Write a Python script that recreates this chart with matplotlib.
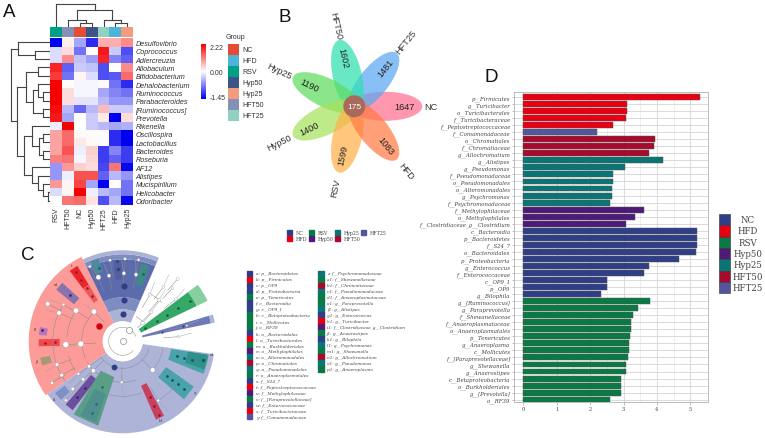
import numpy as np
import matplotlib
matplotlib.use("Agg")
import matplotlib.pyplot as plt
from matplotlib.colors import LinearSegmentedColormap, TwoSlopeNorm
from matplotlib.patches import Ellipse, Wedge, Circle, Arc, Rectangle, Polygon

W, H = 765, 439
fig = plt.figure(figsize=(W / 100, H / 100), dpi=100, facecolor="white")
SANS = "Liberation Sans"
SERIF = "DejaVu Serif"


def px_axes(left, top, right, bottom, **kw):
    return fig.add_axes([left / W, 1 - bottom / H, (right - left) / W, (bottom - top) / H], **kw)


ov = fig.add_axes([0, 0, 1, 1], zorder=0)
ov.set_xlim(0, W)
ov.set_ylim(0, H)
ov.axis("off")


def T(x, y, s, **kw):
    return ov.text(x, H - y, s, **kw)


for letter, x, y in [("A", 9, 12), ("B", 285, 17), ("C", 28, 255), ("D", 491, 78)]:
    T(x, y, letter, fontsize=13.5, family=SANS, ha="center", va="center", color="#111111")

# ---------------- Panel A data ----------------
hm_cols = ["RSV", "HFT50", "NC", "Hyp50", "HFT25", "HFD", "Hyp25"]
hm_rows = ["Desulfovibrio", "Coprococcus", "Adlercreuzia", "Allobaculum", "Bifidobacterium",
           "Dehalobacterium", "Ruminococcus", "Parabacteroides", "[Ruminococcus]", "Prevotella",
           "Rikenella", "Oscillospira", "Lactobacillus", "Bacteroides", "Roseburia",
           "AF12", "Alistipes", "Mucispirillum", "Helicobacter", "Odoribacter"]
hm_vals = np.array([
    [-1.45, 0.15, -0.50, -1.20, 0.70, 0.70, 1.00],
    [-0.20, 0.30, -0.80, 0.02, 2.00, -0.30, -1.00],
    [-0.20, 1.00, -0.35, -0.55, 1.90, -0.70, -0.90],
    [1.90, -0.90, -0.30, -0.35, -1.00, 0.00, 1.00],
    [1.70, -0.80, 0.10, -0.20, -1.00, -0.95, 1.30],
    [2.20, 0.02, -0.05, -0.05, 0.05, -0.80, -1.20],
    [2.20, 0.30, -0.05, -0.05, -0.50, -0.70, -0.80],
    [2.20, 0.30, -0.15, -0.15, -0.40, -0.60, -0.60],
    [2.10, -0.40, -0.85, -0.40, 0.60, -0.30, -0.30],
    [2.00, -0.50, 0.00, -0.30, 0.20, -1.45, 0.30],
    [-0.10, 2.20, 0.00, -0.30, -0.40, -0.50, -0.45],
    [0.80, 1.30, 0.05, 0.05, -0.02, -1.20, -1.45],
    [0.80, 1.30, 0.20, 0.05, -0.02, -1.20, -1.45],
    [0.80, 1.50, -0.10, 0.40, -1.10, -0.70, -1.10],
    [1.10, 1.20, -0.05, 0.35, -1.10, -0.90, -1.10],
    [-0.60, 0.90, 0.40, 0.30, -1.05, 1.20, -1.40],
    [-0.60, -0.10, 1.50, 1.50, -0.90, -0.40, -0.60],
    [0.90, 0.10, 1.60, -0.50, -1.45, 0.00, -0.80],
    [-0.20, 0.10, 2.20, -0.10, -0.40, -0.50, -0.80],
    [0.00, 1.20, 1.30, 0.25, -1.00, -0.40, -1.40],
])
group_names = ["NC", "HFD", "RSV", "Hyp50", "Hyp25", "HFT50", "HFT25"]
npg = ["#e64b35", "#4db4d5", "#00a087", "#3c5488", "#f39b7f", "#8491b4", "#91d1c2"]
npg_map = dict(zip(group_names, npg))

# dendrogram trees: (height, left, right); leaves are indices
col_tree = (70, 0, (52, (22, 1, (13, 2, 3)), (22, 4, (13, 5, 6))))
row_tree = (117, (94, 0, (44, 1, 2)),
            (97, (71, (34, 3, 4),
                  (49, (34, 5, (19, 6, 7)), (21, 8, 9))),
             (77, (52, 10, (31, (21, 11, 12), (19, 13, 14))),
              (52, 15, (34, 16, (21, 17, (6, 18, 19)))))))


def dendro(node, segs):
    if not isinstance(node, tuple):
        return node + 0.5, 0
    h, l, r = node
    pl, hl = dendro(l, segs)
    pr, hr = dendro(r, segs)
    segs += [((pl, hl), (pl, h)), ((pr, hr), (pr, h)), ((pl, h), (pr, h))]
    return (pl + pr) / 2, h


cmap = LinearSegmentedColormap.from_list("bwr2", ["#0000ee", "#ffffff", "#f40000"])
norm = TwoSlopeNorm(vmin=-1.45, vcenter=0, vmax=2.22)

ax = px_axes(49.7, 39.3, 133.4, 205.7)
ax.pcolormesh(hm_vals, cmap=cmap, norm=norm, edgecolors="none")
ax.set_ylim(len(hm_rows), 0)
ax.set_xlim(0, len(hm_cols))
ax.yaxis.tick_right()
ax.set_yticks(np.arange(len(hm_rows)) + 0.5, hm_rows, fontsize=5.2, style="italic", family=SANS, color="#333333")
ax.set_xticks(np.arange(len(hm_cols)) + 0.5, hm_cols, fontsize=5.0, rotation=90, family=SANS, color="#333333")
ax.tick_params(length=0, pad=1.6)
for s in ax.spines.values():
    s.set_visible(False)

an = px_axes(49.7, 28.3, 133.4, 37.8)
for i, c in enumerate(hm_cols):
    an.barh(0, 1, left=i, height=1, color=npg_map[c])
an.set_xlim(0, 7)
an.set_ylim(-0.5, 0.5)
an.axis("off")

dt = px_axes(49.7, 4, 133.4, 28.3)
segs = []
dendro(col_tree, segs)
for (a, b) in segs:
    dt.plot([a[0], b[0]], [a[1], b[1]], color="#444444", lw=0.8, solid_capstyle="projecting")
dt.set_xlim(0, 7)
dt.set_ylim(0, 73)
dt.axis("off")

dl = px_axes(9, 39.3, 49.7, 205.7)
segs = []
dendro(row_tree, segs)
for (a, b) in segs:
    dl.plot([a[1], b[1]], [a[0], b[0]], color="#444444", lw=0.8, solid_capstyle="projecting")
dl.set_xlim(122, 0)
dl.set_ylim(20, 0)
dl.axis("off")

# colour key
cb = px_axes(201, 45, 206, 100)
cb_ticks = [-1.45, 0.0, 2.22]
pos = [0.04, 0.5, 0.95]
cb.imshow(np.linspace(0, 1, 256)[:, None], cmap=cmap, aspect="auto", origin="lower", extent=[0, 1, 0, 1])
cb.set_xticks([])
cb.yaxis.tick_right()
cb.set_yticks(pos, [f"{v:.2f}" for v in cb_ticks], fontsize=5, family=SANS, color="#333333")
cb.tick_params(length=0, pad=2.5)
for s in cb.spines.values():
    s.set_visible(False)

T(225.5, 37, "Group", fontsize=5, family=SANS, color="#333333", va="center")
lg = px_axes(228, 45, 238.5, 122)
for i, (g, c) in enumerate(zip(group_names, npg)):
    lg.barh(i, 1, height=1, color=c)
lg.set_xlim(0, 1)
lg.set_ylim(6.5, -0.5)
lg.axis("off")
for i, g in enumerate(group_names):
    T(242, 50.5 + i * 11, g, fontsize=5, family=SANS, color="#333333", va="center")

# ---------------- Panel B data ----------------
petal_names = ["NC", "HFT25", "HFT50", "Hyp25", "Hyp50", "RSV", "HFD"]
petal_counts = [1647, 1481, 1602, 1190, 1400, 1599, 1083]
core_count = 175
petal_colors = ["#ff6f8f", "#5aa8f2", "#2fe0b0", "#5fdc5f", "#a6e25c", "#ffb04a", "#ff7b45"]
fx, fy = 354.3, H - 107.3
step = 360 / len(petal_names)
for i, c in enumerate(petal_colors):
    a = np.deg2rad(i * step)
    ov.add_patch(Ellipse((fx + 31 * np.cos(a), fy + 31 * np.sin(a)), 74, 29, angle=i * step,
                         facecolor=c, edgecolor="none", alpha=0.72, zorder=2))
for i, (n, v) in enumerate(zip(petal_names, petal_counts)):
    ang = i * step
    a = np.deg2rad(ang)
    rot = ang if np.cos(a) >= 0 else ang - 180
    if i == 5:
        rot = 78
    if i == 2:
        rot = -77
    ov.text(fx + 50 * np.cos(a), fy + 50 * np.sin(a), str(v), rotation=rot, rotation_mode="anchor",
            fontsize=6.6, family=SANS, ha="center", va="center", color="#222222", zorder=4)
    r = 77 if i == 0 else 83
    ov.text(fx + r * np.cos(a), fy + r * np.sin(a), n, rotation=rot, rotation_mode="anchor",
            fontsize=6.6, family=SANS, ha="center", va="center", color="#333333", zorder=4)
ov.add_patch(Circle((fx, fy), 11, facecolor="#a76a5c", edgecolor="none", zorder=3))
ov.text(fx, fy, str(core_count), fontsize=6, family=SANS, color="white", ha="center", va="center", zorder=4)

# group palette for B, C, D
pal = {"NC": "#2f3f87", "HFD": "#e80012", "RSV": "#0a7a44", "Hyp50": "#4f1a78",
       "Hyp25": "#0a7577", "HFT50": "#a80a2e", "HFT25": "#55559c"}
lx = [290, 311.7, 337.3, 364]
for col, pair in enumerate([("NC", "HFD"), ("RSV", "Hyp50"), ("Hyp25", "HFT50"), ("HFT25",)]):
    for row, g in enumerate(pair):
        y = 233.7 + row * 6
        ov.add_patch(Rectangle((lx[col] - 2.5, H - y - 2.5), 5, 5, color=pal[g]))
        T(lx[col] + 6, y, g, fontsize=3.4, family=SERIF, color="#444444", va="center")

# ---------------- Panel C data ----------------
cx, cy = 122.7, H - 342.3
sectors = [  # theta1, theta2, r_in, r_out, colour
    (116, 215, 20, 94, "#fc9b97"),
    (215, 352, 20, 92, "#aeb4d8"),
    (66.6, 116, 20, 32, "#aab3d6"),
    (66.6, 116, 32, 44, "#7f8cc0"),
    (66.6, 116, 44, 82, "#5c6bab"),
    (66.6, 116, 82, 87, "#7f8cc0"),
    (66.6, 116, 87, 91, "#aab3d6"),
    (-22, -9, 49, 87, "#4aa3aa"),
    (-19, -9, 66, 86, "#2f9189"),
    (25.5, 37, 20, 82, "#35a868"),
    (25.5, 37, 82, 94, "#86cfa0"),
    (11.5, 16.5, 20, 90, "#6f79b8"),
    (11.5, 16.5, 90, 94, "#aab3d6"),
]
bands = [  # angle, r_in, r_out, width_in, width_out, colour
    (124, 48, 66, 5, 7, "#ee5a5c"),
    (124, 66, 88, 7, 9, "#e8262c"),
    (139, 61, 84, 8, 9, "#8773ae"),
    (173, 76, 84, 7, 8, "#b877b8"),
    (181, 63, 84, 7, 7, "#f2494e"),
    (194, 74, 84, 7, 8, "#a59a74"),
    (109, 72, 86, 7, 8, "#4c8a9c"),
    (93.5, 62, 81, 7, 8, "#535f9e"),
    (73.5, 58, 80, 7, 8, "#3f8a86"),
    (220.5, 73, 85, 8, 9, "#7f90c6"),
    (231, 46, 85, 7, 9, "#6a4f9c"),
    (245, 36, 87, 15, 27, "#5a9e88"),
    (246, 55, 85, 12, 17, "#4e8f8e"),
    (-64, 48, 85, 6, 9, "#c9405e"),
    (-38, 50, 84, 13, 16, "#4aa3aa"),
]
for t1, t2, r0, r1, c in sectors:
    ov.add_patch(Wedge((cx, cy), r1, t1, t2, width=r1 - r0, facecolor=c, edgecolor="none", zorder=2))


def pol(a, r):
    a = np.deg2rad(a)
    return cx + r * np.cos(a), cy + r * np.sin(a)


for a, r0, r1, w0, w1, c in bands:
    ux, uy = np.cos(np.deg2rad(a)), np.sin(np.deg2rad(a))
    nx, ny = -uy, ux
    pts = [(cx + ux * r0 + nx * w0 / 2, cy + uy * r0 + ny * w0 / 2),
           (cx + ux * r1 + nx * w1 / 2, cy + uy * r1 + ny * w1 / 2),
           (cx + ux * r1 - nx * w1 / 2, cy + uy * r1 - ny * w1 / 2),
           (cx + ux * r0 - nx * w0 / 2, cy + uy * r0 - ny * w0 / 2)]
    ov.add_patch(Polygon(pts, closed=True, facecolor=c, edgecolor="none", zorder=2.1))
ov.add_patch(Circle((cx, cy), 20, facecolor="white", edgecolor="none", zorder=2.2))

arcs = [  # radius, theta1, theta2
    (14, 20, 320), (27, 215, 345), (41, 210, 240), (41, 255, 290), (41, 315, 350), (55, 255, 290),
    (41, 130, 205), (56, 146, 175), (70, 150, 215), (56, 195, 212), (69, 300, 320), (28, 40, 62), (55, 45, 62),
]
for r, t1, t2 in arcs:
    ov.add_patch(Arc((cx, cy), 2 * r, 2 * r, theta1=t1, theta2=t2, color="#8a8a8a", lw=0.35, zorder=2.4))

white_nodes_ang = [153.5, 148.2, 156, 146.7, 134, 183.3, 183.6, 199.5, 209, 210.4,
                   110.8, 101.8, 89, 78.7, 98.9, 88.4, 79, 113.8,
                   268.6, 225, 223.8, 223.6, 226, 216.6, 216.4, -43.7, -59,
                   48.6, 46.8, 53.3, 48.7, 59.7, 45.7, 42.5, 38.4, 4.8, 13.7]
white_nodes_rad = [83.8, 69.7, 69.7, 55.9, 41.3, 57, 42, 69.7, 69.8, 82,
                   68.5, 67, 68, 68, 82, 82.5, 83, 81.6,
                   41, 41.5, 55, 69, 82, 42, 55, 41.5, 69,
                   83, 73, 68, 55, 54, 40.5, 27, 68, 56, 66]
white_nodes_size = [3.2, 2.0, 3.2, 3.8, 3.8, 4.2, 4.2, 2.6, 2.6, 2.2,
                    3.5, 2.6, 2.6, 2.6, 2.0, 2.0, 2.0, 2.0,
                    2.0, 3.0, 2.4, 2.4, 2.0, 2.4, 2.0, 3.4, 2.0,
                    2.2, 2.0, 2.0, 2.0, 2.0, 2.2, 2.6, 2.0, 1.6, 1.4]
dark_nodes = [  # angle, radius, size, colour
    (88.5, 27, 4.4, "#2f3f87"), (88.5, 41, 4.4, "#2f3f87"), (88.5, 55, 4.4, "#2f3f87"),
    (146, 28, 4.6, "#d00010"), (252.3, 27.3, 4.2, "#2f3f87"),
    (124, 55, 1.8, "#a01020"), (124, 64, 1.8, "#a01020"), (124, 74, 1.8, "#a01020"), (124, 84, 1.8, "#a01020"),
    (139, 70, 2.0, "#4f1a78"), (172, 81, 2.0, "#4f1a78"), (181, 68, 1.8, "#a01020"), (181, 78, 1.8, "#a01020"),
    (94, 72, 2.4, "#2f3f87"), (94, 80, 2.0, "#2f3f87"), (73, 70, 2.2, "#0a7a44"), (108, 77, 2.2, "#0a7577"),
    (-38, 56, 2.0, "#0a5a60"), (-38, 63, 2.0, "#0a5a60"), (-38, 70, 2.0, "#0a5a60"), (-38, 78, 2.0, "#0a5a60"),
    (-15, 56, 2.0, "#0a5a60"), (-15, 63, 2.0, "#0a5a60"), (-15, 72, 2.0, "#0a5a60"), (-13, 82, 2.4, "#0a5a60"),
    (-64, 62, 1.8, "#8a1030"), (-64, 72, 1.8, "#8a1030"), (-64, 82, 1.8, "#8a1030"),
    (31, 26, 1.8, "#0a5a30"), (31, 40, 1.8, "#0a5a30"), (31, 52, 1.8, "#0a5a30"), (31, 65, 1.8, "#0a5a30"), (31, 78, 1.8, "#0a5a30"),
    (14, 40, 1.6, "#2f3f87"), (14, 62, 1.6, "#2f3f87"),
    (245, 50, 1.8, "#1a6a60"), (247, 68, 1.8, "#1a6a60"), (247, 78, 1.8, "#1a6a60"), (231, 60, 1.6, "#301060"), (231, 72, 1.6, "#301060"),
]
for a, r in zip(white_nodes_ang, white_nodes_rad):
    x, y = pol(a, r)
    x0, y0 = pol(a, max(r - 15, 20))
    ov.plot([x0, x], [y0, y], color="#8a8a8a", lw=0.35, zorder=2.5)
    x1, y1 = pol(a + 2, r + 13)
    if r < 70:
        ov.plot([x, x1], [y, y1], color="#a0a0a0", lw=0.3, zorder=2.5)
ov.scatter(*pol(np.array(white_nodes_ang), np.array(white_nodes_rad)), s=np.array(white_nodes_size) ** 2,
           facecolor="white", edgecolor="#999999", linewidths=0.25, zorder=3)
for a, r, s, c in dark_nodes:
    x, y = pol(a, r)
    ov.scatter(x, y, s=s ** 2, c=c, linewidths=0, zorder=3)
ov.scatter(cx, cy, s=20, facecolor="white", edgecolor="#777777", linewidths=0.4, zorder=3)
ov.scatter(*pol(60, 13.5), s=20, facecolor="white", edgecolor="#777777", linewidths=0.4, zorder=3)
for a, r, t in [(123.5, 92, "t"), (139, 88, "u1"), (172, 88, "l1"), (193, 88, "j1"),
                (220, 89, "i1"), (-64, 88, "b1"), (-8, 91, "n1"), (-35, 88, "q")]:
    x, y = pol(a, r)
    ov.text(x, y, t, fontsize=2.8, family=SERIF, color="#444444", ha="center", va="center", zorder=4)

# legend C
legC_1 = [("a: p__Bacteroidetes", "NC"), ("b: p__Firmicutes", "HFD"), ("c: p__OP9", "NC"),
          ("d: p__Proteobacteria", "NC"), ("e: p__Tenericutes", "RSV"), ("f: c__Bacteroidia", "NC"),
          ("g: c__OP9_1", "NC"), ("h: c__Betaproteobacteria", "RSV"), ("i: c__Mollicutes", "RSV"),
          ("j: o__RF39", "RSV"), ("k: o__Bacteroidales", "NC"), ("l: o__Turicibacterales", "HFD"),
          ("m: o__Burkholderiales", "RSV"), ("n: o__Methylophilales", "Hyp50"), ("o: o__Alteromonadales", "Hyp25"),
          ("p: o__Chromatiales", "HFT50"), ("q: o__Pseudomonadales", "Hyp25"), ("r: o__Anaeroplasmatales", "RSV"),
          ("s: f__S24_7", "NC"), ("t: f__Peptostreptococcaceae", "HFD"), ("u: f__Methylophilaceae", "Hyp50"),
          ("v: f__[Paraprevotellaceae]", "RSV"), ("w: f__Enterococcaceae", "NC"), ("x: f__Turicibacteraceae", "HFD"),
          ("y: f__Comamonadaceae", "HFT25")]
legC_2 = [("z: f__Psychromonadaceae", "Hyp25"), ("a1: f__Shewanellaceae", "RSV"), ("b1: f__Chromatiaceae", "HFT50"),
          ("c1: f__Pseudomonadaceae", "Hyp25"), ("d1: f__Anaeroplasmataceae", "RSV"), ("e1: g__Paraprevotella", "RSV"),
          ("f1: g__Alistipes", "Hyp25"), ("g1: g__Enterococcus", "NC"), ("h1: g__Turicibacter", "HFD"),
          ("i1: f__Clostridiaceae_g__Clostridium", "Hyp50"), ("j1: g__Anaerostipes", "RSV"), ("k1: g__Bilophila", "NC"),
          ("l1: g__Psychromonas", "Hyp25"), ("m1: g__Shewanella", "RSV"), ("n1: g__Allochromatium", "HFT50"),
          ("o1: g__Pseudomonas", "Hyp25"), ("p1: g__Anaeroplasma", "RSV")]
for items, xs in [(legC_1, 249.7), (legC_2, 321)]:
    for i, (t, g) in enumerate(items):
        y = 274.3 + i * 5.97
        ov.add_patch(Rectangle((xs - 2.7, H - y - 2.7), 5.4, 5.4, color=pal[g]))
        T(xs + 6, y, t, fontsize=3.05, family=SERIF, style="italic", color="#444444", va="center")

# ---------------- Panel D data ----------------
lda_labels = ["p__Firmicutes", "g__Turicibacter", "o__Turicibacterales", "f__Turicibacteraceae",
              "f__Peptostreptococcaceae", "f__Comamonadaceae", "o__Chromatiales", "f__Chromatiaceae",
              "g__Allochromatium", "g__Alistipes", "g__Pseudomonas", "f__Pseudomonadaceae",
              "o__Pseudomonadales", "o__Alteromonadales", "g__Psychromonas", "f__Psychromonadaceae",
              "f__Methylophilaceae", "o__Methylophilales", "f__Clostridiaceae_g__Clostridium",
              "c__Bacteroidia", "p__Bacteroidetes", "f__S24_7", "o__Bacteroidales", "p__Proteobacteria",
              "g__Enterococcus", "f__Enterococcaceae", "c__OP9_1", "p__OP9", "g__Bilophila",
              "g__[Ruminococcus]", "g__Paraprevotella", "f__Shewanellaceae", "f__Anaeroplasmataceae",
              "o__Anaeroplasmatales", "p__Tenericutes", "g__Anaeroplasma", "c__Mollicutes",
              "f__[Paraprevotellaceae]", "g__Shewanella", "g__Anaerostipes", "c__Betaproteobacteria",
              "o__Burkholderiales", "g__[Prevotella]", "o__RF39"]
lda_values = [5.28, 3.11, 3.10, 3.07, 2.69, 2.20, 3.93, 3.91, 3.77, 4.18, 3.03, 2.68, 2.68, 2.67, 2.65, 2.60,
              3.61, 3.35, 3.08, 5.21, 5.20, 5.19, 5.18, 4.66, 3.75, 3.61, 2.52, 2.51, 2.32,
              3.78, 3.42, 3.28, 3.23, 3.21, 3.19, 3.17, 3.16, 3.12, 3.07, 3.06, 2.93, 2.93, 2.92, 2.61]
lda_groups = ["HFD"] * 5 + ["HFT25"] + ["HFT50"] * 3 + ["Hyp25"] * 7 + ["Hyp50"] * 3 + ["NC"] * 10 + ["RSV"] * 15

bx = px_axes(514.3, 93.3, 708, 403)
y_pos = np.arange(len(lda_values))
bx.barh(y_pos, lda_values, height=0.84, color=[pal[g] for g in lda_groups], edgecolor="#555555", linewidth=0.35, zorder=3)
bx.set_xlim(-0.27, 5.53)
bx.set_ylim(43.33, -0.67)
bx.set_yticks(y_pos, lda_labels, fontsize=3.85, family=SERIF, style="italic", color="#444444")
bx.set_xticks(range(6), [str(i) for i in range(6)], fontsize=3.6, family=SERIF, color="#444444")
bx.set_xticks(np.arange(0.5, 5.5, 1), minor=True)
bx.grid(True, which="major", color="#d4d4d8", lw=0.6, zorder=0)
bx.grid(True, which="minor", axis="x", color="#e8e8ec", lw=0.5, zorder=0)
bx.tick_params(axis="both", which="major", length=1.8, width=0.4, color="#888888", pad=1)
bx.tick_params(axis="x", which="minor", length=0)
for s in bx.spines.values():
    s.set_color("#bbbbbb")
    s.set_linewidth(0.7)

for i, g in enumerate(group_names):
    y0 = 215 + i * 11.3
    ov.add_patch(Rectangle((719, H - y0 - 11.3), 11, 11.3, facecolor=pal[g], edgecolor="#333333", linewidth=0.4))
    T(748, y0 + 5.6, g, fontsize=6.2, family=SERIF, color="#444444", ha="center", va="center")

fig.savefig("out.png", dpi=100)
